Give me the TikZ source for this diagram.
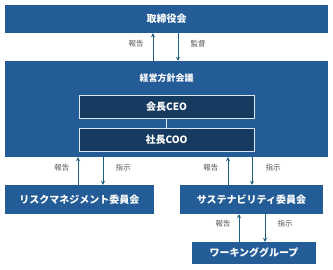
\documentclass[tikz,border=0pt]{standalone}
\usepackage{fontspec}
\setmainfont{Noto Sans CJK JP}
\usetikzlibrary{positioning,arrows.meta,calc}
\definecolor{orgblue}{HTML}{235C97}
\definecolor{orgnavy}{HTML}{163A60}
\definecolor{arrteal}{HTML}{1E5F80}
\definecolor{lblgray}{HTML}{555555}
\newcommand{\boxfont}{\fontsize{10}{12}\selectfont\bfseries}
\begin{document}
\begin{tikzpicture}[
    x=1pt, y=-1pt,
    box/.style={fill=orgblue, draw=none, text=white, font=\boxfont, inner sep=0pt},
    inbox/.style={fill=orgnavy, draw=white!85!orgblue, line width=0.8pt, text=white, font=\boxfont, minimum width=175pt, minimum height=23pt, inner sep=0pt},
    arr/.style={-{Stealth[length=4pt,width=4pt]}, draw=arrteal, line width=1pt},
    lbl/.style={font=\fontsize{7.5}{9}\selectfont, text=lblgray}
]
    \useasboundingbox (0,0) rectangle (333,269);
    % boxes
    \node[box, minimum width=323pt, minimum height=28pt] (board) at (166.5,19) {取締役会};
    \node[box, minimum width=323pt, minimum height=96pt] (keiei) at (166.5,109) {};
    \node[text=white, font=\fontsize{9}{11}\selectfont\bfseries] (keieititle) at (166.5,78) {経営方針会議};
    \node[inbox] (ceo) at (166.5,106.5) {会長CEO};
    \node[inbox] (coo) at (166.5,139.5) {社長COO};
    \node[box, minimum width=149pt, minimum height=29pt] (risk) at (79.5,199.5) {リスクマネジメント委員会};
    \node[box, minimum width=143pt, minimum height=29pt] (sust) at (251.5,199.5) {サステナビリティ委員会};
    \node[box, minimum width=124pt, minimum height=22pt] (wg) at (254,253) {ワーキンググループ};
    % arrow positions
    \coordinate (xa) at (153,0);
    \coordinate (xb) at (178,0);
    \coordinate (xc) at (78,0);
    \coordinate (xd) at (103,0);
    \coordinate (xe) at (228,0);
    \coordinate (xf) at (252,0);
    \coordinate (xg) at (239,0);
    \coordinate (xh) at (265,0);
    % connectors
    \draw[line width=0.8pt, white!85!orgblue] (ceo) -- (coo);
    \draw[arr] (keiei.north -| xa) -- (board.south -| xa);
    \draw[arr] (board.south -| xb) -- (keiei.north -| xb);
    \draw[arr] (risk.north -| xc) -- (keiei.south -| xc);
    \draw[arr] (keiei.south -| xd) -- (risk.north -| xd);
    \draw[arr] (sust.north -| xe) -- (keiei.south -| xe);
    \draw[arr] (keiei.south -| xf) -- (sust.north -| xf);
    \draw[arr] (wg.north -| xg) -- (sust.south -| xg);
    \draw[arr] (sust.south -| xh) -- (wg.north -| xh);
    % labels
    \node[lbl] (l1) at (136,44) {報告};
    \node[lbl] (l2) at (198,44) {監督};
    \node[lbl] (l3) at (62,168) {報告};
    \node[lbl] (l4) at (123,168) {指示};
    \node[lbl] (l5) at (211,168) {報告};
    \node[lbl] (l6) at (273,168) {指示};
    \node[lbl] (l7) at (223,224) {報告};
    \node[lbl] (l8) at (285,224) {指示};
\end{tikzpicture}
\end{document}
